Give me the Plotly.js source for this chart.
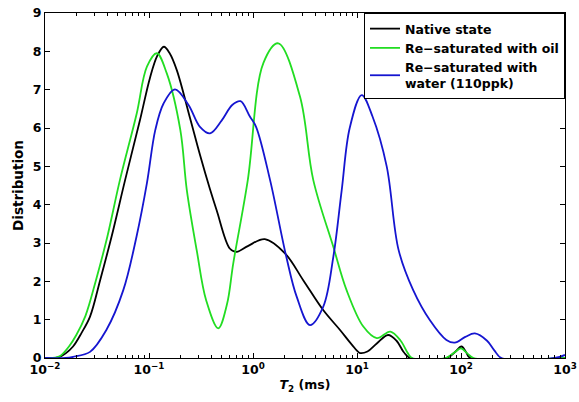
<!DOCTYPE html>
<html>
<head>
<meta charset="utf-8">
<script src="https://cdn.plot.ly/plotly-3.0.1.min.js"></script>
<style>html,body{margin:0;padding:0;background:#fff;}#chart{width:579px;height:402px;}</style>
</head>
<body>
<div id="chart"></div>
<script>
// T2 (ms) and distribution values
var nativeT2 = [0.01, 0.0126, 0.0139, 0.0158, 0.0186, 0.0224, 0.0271, 0.0339, 0.0437, 0.0589, 0.0818, 0.102, 0.120, 0.139, 0.158, 0.185, 0.248, 0.309, 0.386, 0.448, 0.601, 0.697, 0.891, 1.30, 2.03, 3.04, 4.73, 6.87, 8.91, 10.7, 12.6, 15.5, 19.9, 24.0, 28.2, 32.4, 72.4, 87.1, 101, 112, 123, 1000];
var nativeVal = [0, 0.005, 0.03, 0.12, 0.3, 0.65, 1.08, 2.03, 3.17, 4.64, 6.2, 7.3, 7.88, 8.12, 7.95, 7.51, 6.26, 5.3, 4.4, 3.85, 2.85, 2.77, 2.92, 3.10, 2.73, 2.03, 1.25, 0.73, 0.35, 0.13, 0.17, 0.38, 0.6, 0.45, 0.15, 0, 0, 0.15, 0.3, 0.15, 0, 0];

var oilT2 = [0.01, 0.0126, 0.0141, 0.0170, 0.0200, 0.0245, 0.0309, 0.0398, 0.0525, 0.0762, 0.0955, 0.119, 0.148, 0.200, 0.231, 0.288, 0.355, 0.463, 0.562, 0.646, 0.891, 1.26, 1.75, 2.83, 3.80, 5.92, 7.94, 11.5, 15.5, 20.9, 26.3, 30.9, 33.9, 70.8, 87.1, 100, 115, 132, 1000];
var oilVal = [0, 0.01, 0.06, 0.3, 0.6, 1.1, 2.03, 3.17, 4.64, 6.38, 7.6, 7.95, 7.43, 5.95, 4.38, 2.8, 1.5, 0.775, 1.4, 2.47, 4.64, 7.7, 8.21, 6.82, 4.64, 2.9, 1.77, 0.82, 0.52, 0.69, 0.45, 0.12, 0, 0, 0.15, 0.25, 0.12, 0, 0];

var waterT2 = [0.01, 0.0158, 0.0186, 0.0271, 0.0389, 0.0566, 0.0759, 0.0955, 0.115, 0.138, 0.178, 0.240, 0.309, 0.386, 0.501, 0.631, 0.759, 0.933, 1.07, 1.46, 2.09, 2.63, 3.53, 4.74, 5.92, 7.13, 8.51, 11.1, 14.1, 19.3, 25.1, 34.7, 50.1, 72.4, 87.1, 110, 136, 178, 209, 245, 794, 1000];
var waterVal = [0, 0, 0.03, 0.16, 0.73, 1.77, 3.17, 4.56, 5.95, 6.64, 7.01, 6.6, 6.03, 5.86, 6.2, 6.6, 6.7, 6.3, 6.03, 4.64, 2.64, 1.6, 0.86, 1.34, 2.64, 4.38, 6.0, 6.86, 6.3, 5.0, 2.82, 1.77, 0.99, 0.47, 0.4, 0.55, 0.64, 0.45, 0.2, 0, 0, 0.08];

var seriesNames = ['Native state', 'Re\u2212saturated with oil', 'Re\u2212saturated with<br>water (110ppk)'];
var seriesColors = ['#000000', '#22dd22', '#1515d0'];

var xTickVals = [0.01, 0.1, 1, 10, 100, 1000];
var xTickText = ['10<sup>\u22122</sup>', '10<sup>\u22121</sup>', '10<sup>0</sup>', '10<sup>1</sup>', '10<sup>2</sup>', '10<sup>3</sup>'];
var yTickVals = [0, 1, 2, 3, 4, 5, 6, 7, 8, 9];

var xs = [nativeT2, oilT2, waterT2];
var ys = [nativeVal, oilVal, waterVal];
var traces = xs.map(function (x, i) {
  return {
    x: x, y: ys[i], type: 'scatter', mode: 'lines', name: seriesNames[i],
    line: {color: seriesColors[i], width: 1.8, shape: 'spline', smoothing: 1}
  };
});

var fnt = {family: 'DejaVu Sans, sans-serif', size: 12.5, color: '#000', weight: 'bold'};

var layout = {
  width: 579, height: 402,
  margin: {l: 45, r: 14, t: 13, b: 44},
  paper_bgcolor: '#fff', plot_bgcolor: '#fff',
  font: fnt,
  showlegend: true,
  legend: {x: 1, xanchor: 'right', y: 1, yanchor: 'top', bgcolor: '#fff',
           bordercolor: '#000', borderwidth: 1, font: fnt, tracegroupgap: 0, itemwidth: 30},
  xaxis: {
    type: 'log', range: [-2, 3], tickvals: xTickVals, ticktext: xTickText,
    ticks: 'inside', ticklen: 5, tickcolor: '#000', showline: true, linecolor: '#000', linewidth: 1,
    mirror: 'ticks', showgrid: false, zeroline: false,
    minor: {ticks: 'inside', ticklen: 3, tickcolor: '#000', dtick: 'D1', showgrid: false},
    tickfont: fnt,
    title: {text: '<i>T</i><sub>2</sub> (ms)', font: fnt, standoff: 4}
  },
  yaxis: {
    range: [0, 9], tickvals: yTickVals,
    ticks: 'inside', ticklen: 5, tickcolor: '#000', showline: true, linecolor: '#000', linewidth: 1,
    mirror: 'ticks', showgrid: false, zeroline: false,
    tickfont: fnt,
    title: {text: 'Distribution', font: {family: 'DejaVu Sans, sans-serif', size: 13.5, color: '#000', weight: 'bold'}, standoff: 6}
  }
};

Plotly.newPlot('chart', traces, layout, {displayModeBar: false, staticPlot: true});
</script>
</body>
</html>
